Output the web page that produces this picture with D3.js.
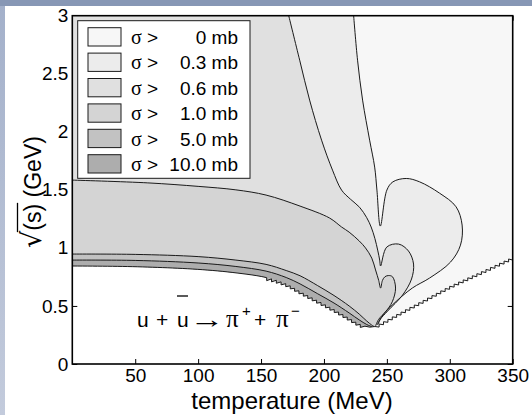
<!DOCTYPE html>
<html lang="en">
<head>
<meta charset="utf-8">
<title>u ubar -> pi+ pi- cross section contours</title>
<script src="https://cdn.jsdelivr.net/npm/d3@7/dist/d3.min.js"></script>
<style>
  body { margin: 0; background: #fff; }
  svg { display: block; }
  text { font-family: "Liberation Sans", Arial, Helvetica, sans-serif; fill: #000; }
</style>
</head>
<body>
<script>
// ---- data: contour levels (mb) and their boundaries, [T (MeV), sqrt(s) (GeV)] ----
var levels = ["0", "0.3", "0.6", "1.0", "5.0", "10.0"];
var xTicks = [50, 100, 150, 200, 250, 300, 350];
var yTicks = [0, 0.5, 1, 1.5, 2, 2.5, 3];

// sigma > 0 (threshold) boundary
var bound0 = [[0,0.844],[50,0.838],[100,0.815],[130,0.785],[154,0.745],[170,0.69],[181,0.625],
  [195,0.545],[208,0.47],[220,0.395],[228,0.345],[234,0.322],[239,0.318],[244,0.345],[250,0.38],
  [260,0.44],[280,0.555],[300,0.67],[325,0.795],[350,0.921]];
// sigma = 0.3 mb
var line03 = [[223.6,3.0],[226.7,2.617],[230.7,2.273],[236.3,1.928],[240.3,1.696],[242.1,1.498],
  [244.8,1.188],[250,1.498],[254.8,1.569],[265.4,1.598],[276,1.569],[291.8,1.472],[305,1.354],
  [309.8,1.197],[308.5,1.024],[300.6,0.878],[283.9,0.74],[270.2,0.654],[254.3,0.508],[246,0.41],[243,0.34]];
// sigma = 0.6 mb
var line06 = [[172,3.0],[180.7,2.617],[188.6,2.273],[198.1,1.928],[206.8,1.67],[214,1.498],
  [221,1.42],[228.3,1.35],[234,1.26],[237.5,1.18],[240.5,1.08],[242.7,0.981],[244.3,0.895],[245,0.844],
  [249.9,1.007],[259.3,1.033],[267.2,0.973],[271.2,0.861],[269.6,0.732],[262.5,0.594],[250.6,0.456],
  [244.3,0.379],[242,0.332]];
// sigma = 1.0 mb
var line1 = [[0,1.584],[60,1.56],[100,1.53],[130,1.5],[154,1.455],[181,1.36],[204.5,1.257],[214,1.18],
  [220,1.136],[228,1.06],[233,1.0],[238,0.912],[241,0.81],[243.5,0.72],[245,0.654],[246.5,0.72],
  [248.5,0.752],[251.5,0.762],[254.5,0.751],[256.9,0.654],[254.3,0.536],[249,0.45],[243.5,0.385],[241,0.328]];
// sigma = 5.0 mb
var line5 = [[0,0.947],[50,0.944],[100,0.925],[130,0.895],[154,0.858],[170,0.805],[181,0.76],[195,0.675],
  [208,0.59],[220,0.5],[228,0.43],[234,0.37],[238,0.335],[240,0.322]];
// sigma = 10.0 mb
var line10 = [[0,0.895],[50,0.892],[100,0.87],[130,0.84],[154,0.8],[170,0.745],[181,0.69],[195,0.605],
  [208,0.525],[220,0.44],[228,0.38],[234,0.34],[238,0.322]];

var fills = ["#f7f7f7", "#ececec", "#e0e0e0", "#d4d4d4", "#c2c2c2", "#adadad"];

var W = 532, H = 415;
var svg = d3.select("body").append("svg").attr("width", W).attr("height", H);
var defs = svg.append("defs");

// slide background bits
var grad = defs.append("linearGradient").attr("id", "side")
  .attr("x1", 0).attr("y1", 0).attr("x2", 0).attr("y2", 1);
grad.append("stop").attr("offset", 0).attr("stop-color", "#a3b0ca");
grad.append("stop").attr("offset", 1).attr("stop-color", "#c3cbdc");
svg.append("rect").attr("x", 0).attr("y", 0).attr("width", 5).attr("height", H).attr("fill", "url(#side)");
svg.append("rect").attr("x", 0).attr("y", 0).attr("width", W).attr("height", 6).attr("fill", "#8797b5");

var x = d3.scaleLinear().domain([0, 350]).range([72.3, 512.7]);
var y = d3.scaleLinear().domain([0, 3]).range([364, 15.7]);

defs.append("clipPath").attr("id", "plot")
  .append("rect").attr("x", x(0)).attr("y", y(3)).attr("width", x(350) - x(0)).attr("height", y(0) - y(3));

// axes (ticks go under the filled contours)
function styleAxis(g) {
  g.select(".domain").remove();
  g.selectAll(".tick line").attr("stroke", "#000").attr("stroke-width", 1);
  g.selectAll(".tick text").style("font-size", "19px").attr("fill", "#000");
}
var fmt = function(d) { return String(d); };
svg.append("g").attr("transform", "translate(0," + y(0) + ")")
  .call(d3.axisBottom(x).tickValues(xTicks).tickFormat(fmt).tickSizeInner(-5).tickSizeOuter(0).tickPadding(5))
  .call(styleAxis);
svg.append("g").attr("transform", "translate(" + x(0) + ",0)")
  .call(d3.axisLeft(y).tickValues(yTicks).tickFormat(fmt).tickSizeInner(-5).tickSizeOuter(0).tickPadding(4))
  .call(styleAxis);
svg.append("g").attr("transform", "translate(0," + y(3) + ")")
  .call(d3.axisTop(x).tickValues(xTicks).tickSizeInner(-5).tickSizeOuter(0).tickFormat(""))
  .call(styleAxis);
svg.append("g").attr("transform", "translate(" + x(350) + ",0)")
  .call(d3.axisRight(y).tickValues(yTicks).tickSizeInner(-5).tickSizeOuter(0).tickFormat(""))
  .call(styleAxis);

// contour regions
var line = d3.line().x(function(d) { return x(d[0]); }).y(function(d) { return y(d[1]); })
  .curve(d3.curveCatmullRom.alpha(0.5));

function joined(parts) {
  return parts.map(function(p, i) {
    var s = line(p);
    return i ? "L" + s.slice(1) : s;
  }).join("") + "Z";
}
function tail(edge) {
  var lastT = edge[edge.length - 1][0];
  return bound0.filter(function(p) { return p[0] < lastT - 0.5; }).reverse();
}

var regions = [
  joined([[[0, 3], [350, 3]], bound0.slice().reverse()]),
  joined([[[0, 3], line03[0]], line03, tail(line03)]),
  joined([[[0, 3], line06[0]], line06, tail(line06)]),
  joined([line1, tail(line1)]),
  joined([line5, tail(line5)]),
  joined([line10, tail(line10)])
];

var plot = svg.append("g").attr("clip-path", "url(#plot)");
plot.selectAll("path.region").data(regions).enter().append("path")
  .attr("class", "region")
  .attr("d", function(d) { return d; })
  .attr("fill", function(d, i) { return fills[i]; })
  .attr("stroke", "none");

plot.selectAll("path.contour").data([line03, line06, line1, line5, line10]).enter().append("path")
  .attr("class", "contour")
  .attr("d", line)
  .attr("fill", "none")
  .attr("stroke", "#1a1a1a")
  .attr("stroke-width", 1);

// threshold edge: grid-resolution saw teeth where the edge runs on a slope
var edge = plot.append("path").attr("d", line(bound0)).attr("fill", "none").attr("stroke", "none");
var en = edge.node(), len = en.getTotalLength();
var pts = [];
for (var s = 0; s <= len; s += 5) pts.push(en.getPointAtLength(s));
pts.push(en.getPointAtLength(len));
var tipX = x(239);
var saw = "M" + pts[0].x + "," + pts[0].y;
var teeth = [];
for (var i = 1; i < pts.length; i++) {
  var p = pts[i - 1], q = pts[i];
  var slope = Math.abs((q.y - p.y) / (q.x - p.x || 1e-6));
  if (slope > 0.25 && q.x - p.x > 0.8) {
    var down = q.y > p.y;
    var c = down ? [p.x, p.y + 3] : [q.x, q.y + 3];
    saw += "L" + c[0] + "," + c[1] + "L" + q.x + "," + q.y;
    teeth.push({ d: "M" + p.x + "," + p.y + "L" + c[0] + "," + c[1] + "L" + q.x + "," + q.y + "Z",
      fill: q.x < tipX ? fills[5] : fills[0] });
  } else {
    saw += "L" + q.x + "," + q.y;
  }
}
plot.selectAll("path.tooth").data(teeth).enter().append("path")
  .attr("class", "tooth").attr("d", function(d) { return d.d; })
  .attr("fill", function(d) { return d.fill; }).attr("stroke", "none");
plot.append("path").attr("d", saw).attr("fill", "none").attr("stroke", "#1a1a1a").attr("stroke-width", 1);

// frame
svg.append("rect").attr("x", x(0)).attr("y", y(3)).attr("width", x(350) - x(0)).attr("height", y(0) - y(3))
  .attr("fill", "none").attr("stroke", "#000").attr("stroke-width", 1.6);

// legend
var serif = "'Liberation Serif', 'Times New Roman', serif";
var lg = svg.append("g");
lg.append("rect").attr("x", 77.7).attr("y", 20.7).attr("width", 172.3).attr("height", 157.6)
  .attr("fill", "#fff").attr("stroke", "#1a1a1a").attr("stroke-width", 1);
var rows = lg.selectAll("g.row").data(levels).enter().append("g")
  .attr("transform", function(d, i) { return "translate(0," + (27.7 + i * 25.4) + ")"; });
rows.append("rect").attr("x", 88).attr("y", 0).attr("width", 33).attr("height", 18.3)
  .attr("fill", function(d, i) { return fills[i]; }).attr("stroke", "#1a1a1a").attr("stroke-width", 1);
rows.append("text").attr("x", 131).attr("y", 16.3).style("font-size", "19px")
  .call(function(t) {
    t.append("tspan").style("font-family", serif).style("font-size", "20px").text("σ");
    t.append("tspan").text(" >");
  });
rows.append("text").attr("x", 238).attr("y", 16.3).attr("text-anchor", "end").style("font-size", "19px")
  .text(function(d) { return d + " mb"; });

// axis titles
svg.append("text").attr("x", 292).attr("y", 409).attr("text-anchor", "middle").style("font-size", "24px")
  .text("temperature (MeV)");

var yt = svg.append("text").attr("transform", "translate(41,192) rotate(-90)").style("font-size", "23px");
var t1 = yt.append("tspan").style("font-family", "'DejaVu Sans', sans-serif").style("font-size", "27px").text("√");
var t2 = yt.append("tspan").text("(s)");
yt.append("tspan").text(" (GeV)");
var total = yt.node().getComputedTextLength();
yt.attr("x", -total / 2);
var w1 = t1.node().getComputedTextLength(), w2 = t2.node().getComputedTextLength();
svg.append("line").attr("transform", "translate(41,192) rotate(-90)")
  .attr("x1", -total / 2 + w1 - 1.5).attr("x2", -total / 2 + w1 + w2 + 1)
  .attr("y1", -23.5).attr("y2", -23.5).attr("stroke", "#000").attr("stroke-width", 1.3);

// reaction label
var rx = svg.append("text").attr("y", 327).style("font-size", "21px");
rx.append("tspan").attr("x", 137).text("u");
rx.append("tspan").attr("x", 156).text("+");
rx.append("tspan").attr("x", 177).text("u");
rx.append("tspan").attr("x", 226).style("font-family", serif).style("font-size", "25px").text("π");
rx.append("tspan").attr("x", 242).attr("dy", -11).style("font-size", "15px").text("+");
rx.append("tspan").attr("x", 254).attr("dy", 11).text("+");
rx.append("tspan").attr("x", 276).style("font-family", serif).style("font-size", "25px").text("π");
rx.append("tspan").attr("x", 291).attr("dy", -11).style("font-size", "15px").text("−");
// long thin arrow
svg.append("text").attr("transform", "translate(189.5,328) scale(1.4,1)")
  .style("font-family", serif).style("font-size", "25px").text("→");
svg.append("line").attr("x1", 177).attr("x2", 188).attr("y1", 296).attr("y2", 296)
  .attr("stroke", "#000").attr("stroke-width", 1.3);
</script>
</body>
</html>
